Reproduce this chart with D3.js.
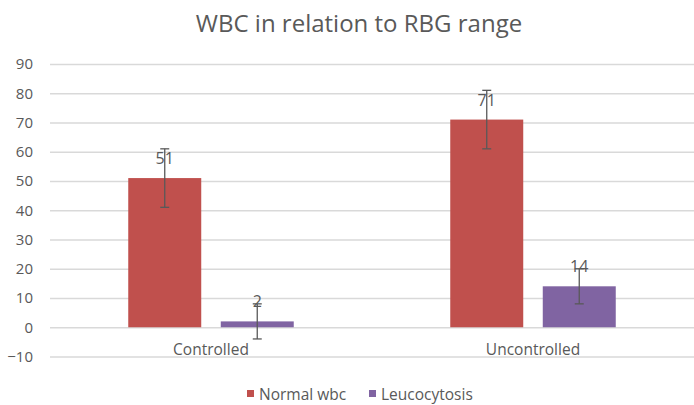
<!DOCTYPE html>
<html>
<head>
<meta charset="utf-8">
<script src="https://cdn.jsdelivr.net/npm/d3@7"></script>
<style>
  body { margin: 0; background: #fff; }
  text { font-family: "Open Sans", "Liberation Sans", sans-serif; fill: #595959; }
</style>
</head>
<body>
<div id="chart"></div>
<script>
const width = 694;
const height = 405;

// --- Data ---
const categories = ["Controlled", "Uncontrolled"];
const seriesNames = ["Normal wbc", "Leucocytosis"];
const normalWbc = [51, 71];
const leucocytosis = [2, 14];
const errorAmount = [10, 6]; // fixed +/- per series
const yTicks = [-10, 0, 10, 20, 30, 40, 50, 60, 70, 80, 90];
const seriesColors = ["#C0504D", "#8064A2"];

const values = [normalWbc, leucocytosis];

const svg = d3.select("#chart")
  .append("svg")
  .attr("width", width)
  .attr("height", height);

// --- Scales ---
const y = d3.scaleLinear().domain([-10, 90]).range([356.5, 64]);
const x0 = d3.scaleBand().domain(categories).range([50, 694]).padding(0);
const x1 = d3.scaleBand().domain(seriesNames).range([0, 165.5]).paddingInner(0.211).paddingOuter(0);

// --- Title ---
svg.append("text")
  .attr("x", 359)
  .attr("y", 32)
  .attr("text-anchor", "middle")
  .attr("font-size", "24px")
  .text("WBC in relation to RBG range");

// --- Gridlines + tick labels ---
const yAxis = d3.axisLeft(y)
  .tickValues(yTicks)
  .tickSize(-(694 - 50))
  .tickPadding(17);

const gy = svg.append("g")
  .attr("transform", "translate(50,0)")
  .call(yAxis);
gy.select(".domain").remove();
gy.selectAll(".tick line").attr("stroke", "#d9d9d9").attr("stroke-width", 1.3);
gy.selectAll(".tick text")
  .attr("font-size", "15px")
  .attr("fill", "#595959")
  .style("font-family", "'Open Sans', sans-serif");

// --- Bars ---
const rows = categories.map((c, i) => ({
  category: c,
  items: seriesNames.map((s, j) => ({ series: s, value: values[j][i], idx: j }))
}));

const groups = svg.append("g")
  .selectAll("g")
  .data(rows)
  .join("g")
  .attr("transform", d => `translate(${x0(d.category) + (x0.bandwidth() - 165.5) / 2},0)`);

groups.selectAll("rect")
  .data(d => d.items)
  .join("rect")
  .attr("x", d => x1(d.series))
  .attr("y", d => y(Math.max(0, d.value)))
  .attr("width", x1.bandwidth())
  .attr("height", d => Math.abs(y(d.value) - y(0)))
  .attr("fill", d => seriesColors[d.idx]);

// --- Error bars ---
const err = groups.selectAll("g.err")
  .data(d => d.items)
  .join("g")
  .attr("class", "err")
  .attr("stroke", "#595959")
  .attr("stroke-width", 1.3);

err.append("line")
  .attr("x1", d => x1(d.series) + x1.bandwidth() / 2)
  .attr("x2", d => x1(d.series) + x1.bandwidth() / 2)
  .attr("y1", d => y(d.value - errorAmount[d.idx]))
  .attr("y2", d => y(d.value + errorAmount[d.idx]));

[-1, 1].forEach(sign => {
  err.append("line")
    .attr("x1", d => x1(d.series) + x1.bandwidth() / 2 - 4.5)
    .attr("x2", d => x1(d.series) + x1.bandwidth() / 2 + 4.5)
    .attr("y1", d => y(d.value + sign * errorAmount[d.idx]))
    .attr("y2", d => y(d.value + sign * errorAmount[d.idx]));
});

// --- Data labels ---
groups.selectAll("text.lbl")
  .data(d => d.items)
  .join("text")
  .attr("class", "lbl")
  .attr("x", d => x1(d.series) + x1.bandwidth() / 2)
  .attr("y", d => y(d.value) - 14)
  .attr("text-anchor", "middle")
  .attr("font-size", "16px")
  .attr("fill", "#404040")
  .text(d => d.value);

// --- Category labels ---
svg.append("g")
  .selectAll("text")
  .data(categories)
  .join("text")
  .attr("x", d => x0(d) + x0.bandwidth() / 2)
  .attr("y", 355)
  .attr("text-anchor", "middle")
  .attr("font-size", "15.5px")
  .text(d => d);

// --- Legend ---
const legendX = [247, 369];
const legend = svg.append("g")
  .selectAll("g")
  .data(seriesNames)
  .join("g")
  .attr("transform", (d, i) => `translate(${legendX[i]},394)`);

legend.append("rect")
  .attr("x", 0)
  .attr("y", -4)
  .attr("width", 7)
  .attr("height", 7)
  .attr("fill", (d, i) => seriesColors[i]);

legend.append("text")
  .attr("x", 12)
  .attr("y", 5.5)
  .attr("font-size", "15.5px")
  .text(d => d);
</script>
</body>
</html>
